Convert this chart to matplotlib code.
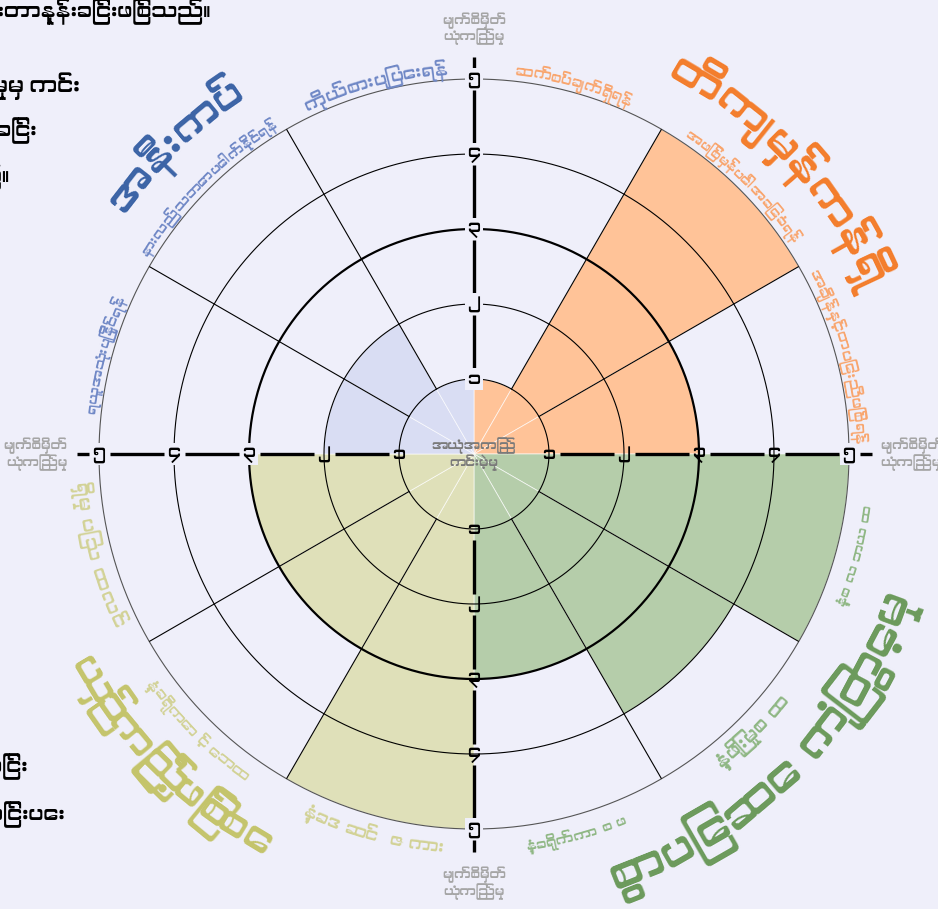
import unicodedata
import numpy as np
import matplotlib
matplotlib.use("Agg")
import matplotlib.pyplot as plt
from matplotlib import font_manager

# Myanmar text needs a Myanmar font; take one if the system has it
myanmar_fonts = sorted({f.name for f in font_manager.fontManager.ttflist
                        if any(k in f.name for k in ("Myanmar", "Padauk", "Pyidaungsu"))})
plt.rcParams["font.family"] = myanmar_fonts[:1] + ["Noto Sans", "DejaVu Sans"]

BG = "#efeffa"

# 12 sectors, clockwise from the top
sector_values = [1, 5, 3, 5, 4, 3, 5, 3, 3, 2, 2, 1]
sector_labels = [
    "ဆက်စပ်ချက်ရှိရန်",
    "အဖြစ်မှန်ပေါ်အခြေခံရန်",
    "အချိန်နှင့်တပြေးညီဖြစ်ရန်",
    "နှံ့စ လ ဘယ ထ",
    "နှံ့ဖြိုးမှုစ ထ",
    "နှံ့ခရိုက်ကာ စ ဖ",
    "နှံ့ခဒ ဆင်  ဇ ကား",
    "နှံ့ခရိုကော င့် ေဘထ",
    "ရှိမှု ပြသ ထလင်",
    "ရယူအသုံးပြုနိုင်ရန်",
    "နားလည်သဘောပေါက်နိုင်ရန်",
    "ကိုယ်စားပြုပေးရန်",
]
sector_group = [0, 0, 0, 1, 1, 1, 2, 2, 2, 3, 3, 3]
label_spans = [18, 23, 27, 15, 14, 15, 21, 20, 22, 18, 28, 22]

# four groups: top-right, bottom-right, bottom-left, top-left
group_titles = ["တိကျမှန်ကန်ရှိ", "စွာပြေဆေ ကြုံတွေ့မှု", "ယှဉ်ကြည့်ဖြစ်စေ", "အနီးကပ်"]
group_fill = ["#ffc398", "#b5cdaa", "#dfe0b9", "#d9ddf3"]
group_title_color = ["#f47d2b", "#6b9a5b", "#c4c46b", "#3b63a6"]
group_label_color = ["#f9a56d", "#8fb784", "#d2d296", "#7088c6"]
title_centers = [47, 135, 225, 316]
title_spans = [40, 54, 34, 23]
title_radius = [5.65, 6.1, 6.05, 5.65]

ring_digits = ["၁", "၂", "၃", "၄", "၅"]
axis_end_label = "မျက်စိမှိတ်\nယုံကြည်မှု"
center_label = "အယုံအကြည်\nကင်းမဲ့မှု"

# text running off the left edge of the picture: (text, right x px, y px, size, weight)
side_texts = [
    ("ဒေတာအရည်အသွေး တိုင်းတာနှုန်းခြင်းဖြစ်သည်။", 210, 12, 15, "normal"),
    ("အယုံအကြည်ကင်းမဲ့မှုမှ ကင်း", 80, 86, 16, "bold"),
    ("ယုံကြည်မှုတည်ဆောက်ခြင်း", 37, 131, 15, "normal"),
    ("ဖြစ်သည်။", 10, 177, 15, "normal"),
    ("အချက်အလက်များ စစ်ဆေးခြင်း", 27, 767, 15, "normal"),
    ("ဆုံးဖြတ်ချက်ချနိုင်အောင် ကူညီခြင်းပေး", 65, 815, 15, "normal"),
]

fig = plt.figure(figsize=(9.38, 9.09), dpi=100, facecolor=BG)
ax = fig.add_axes([99 / 938, 80 / 909, 750 / 938, 750 / 909], projection="polar")
ax.set_theta_zero_location("N")
ax.set_theta_direction(-1)
ax.set_ylim(0, 5)
ax.axis("off")

theta = np.radians(np.arange(12) * 30)
ax.bar(theta, sector_values, width=np.radians(30), align="edge",
       color=[group_fill[g] for g in sector_group],
       edgecolor=(1, 1, 1, 0.7), linewidth=0.6, zorder=1)

# rings and spokes
tt = np.linspace(0, 2 * np.pi, 721)
for k in range(1, 6):
    ax.plot(tt, np.full_like(tt, k), color="#555555" if k == 5 else "black",
            lw=1.6 if k == 3 else 0.8, zorder=2, clip_on=False)
for a in range(30, 360, 30):
    if a % 90:
        ax.plot([np.radians(a)] * 2, [1, 5], color="black", lw=0.8, zorder=2)

# the four axes with their ring numbers
gap = 0.14
for a in (0, 90, 180, 270):
    t = np.radians(a)
    for k in range(1, 6):
        top = k + 1 - gap if k < 5 else 5.3
        ax.plot([t, t], [k + gap, top], color="black", lw=2.4, zorder=3,
                clip_on=False, solid_capstyle="butt")
    # sectors on both sides of this axis
    i_after = (a // 30) % 12
    i_before = (a // 30 - 1) % 12
    for k, d in enumerate(ring_digits, 1):
        inside = max(sector_values[i_after], sector_values[i_before]) > k
        box = None if inside else dict(boxstyle="square,pad=0.12", fc=BG, ec="none")
        ax.text(t, k, d, ha="center", va="center", fontsize=13, fontweight="bold",
                color="black", zorder=4, bbox=box)

ax.text(0, 5.45, axis_end_label, ha="center", va="bottom", fontsize=9.5,
        color="#a5a5a5", linespacing=1.0, zorder=5)
ax.text(np.pi, 5.5, axis_end_label, ha="center", va="top", fontsize=9.5,
        color="#a5a5a5", linespacing=1.0, zorder=5)
ax.text(np.pi / 2, 5.42, axis_end_label, ha="left", va="center", fontsize=9.5,
        color="#a5a5a5", linespacing=1.0, zorder=5)
ax.text(3 * np.pi / 2, 5.42, axis_end_label, ha="right", va="center", fontsize=9.5,
        color="#a5a5a5", linespacing=1.0, zorder=5)
ax.text(0, 0, center_label, ha="center", va="center", fontsize=9.5, fontweight="bold",
        color="#7a7a7a", linespacing=1.0, zorder=5)

renderer = fig.canvas.get_renderer()
unit_px = ax.get_window_extent(renderer).width / 2 / 5


def split_clusters(s):
    out = []
    for ch in s:
        if out and (unicodedata.category(ch)[0] == "M" or out[-1].endswith("\u1039")):
            out[-1] += ch
        else:
            out.append(ch)
    return out


def text_width(s, size, weight):
    t = fig.text(0, 0, s, fontsize=size, fontweight=weight)
    w = t.get_window_extent(renderer).width
    t.remove()
    return w


def arc_text(s, center, span, r, size, color, weight="normal", min_scale=0.6):
    parts = split_clusters(s)
    widths = [text_width(p, size, weight) if p.strip() else size * 0.5 for p in parts]
    rpx = r * unit_px
    target = np.radians(span) * rpx
    scale = np.clip(target / sum(widths), min_scale, 1.3)
    size *= scale
    # spread the glyphs so the text fills the wanted span
    spread = target / (sum(widths) * scale)
    widths = [w * scale * spread for w in widths]
    total = np.degrees(sum(widths) / rpx)
    upper = not (90 < center < 270)
    pos = 0
    for p, w in zip(parts, widths):
        off = np.degrees((pos + w / 2) / rpx)
        pos += w
        if upper:
            b = center - total / 2 + off
            rot = -b
        else:
            b = center + total / 2 - off
            rot = 180 - b
        if p.strip():
            ax.text(np.radians(b), r, p, rotation=rot, rotation_mode="anchor",
                    ha="center", va="baseline", fontsize=size, color=color,
                    fontweight=weight, zorder=5)


for i, lab in enumerate(sector_labels):
    c = 15 + 30 * i
    r = 5.08 if not (90 < c < 270) else 5.33
    arc_text(lab, c, label_spans[i], r, 10.5, group_label_color[sector_group[i]])

for g, title in enumerate(group_titles):
    arc_text(title, title_centers[g], title_spans[g], title_radius[g], 32,
             group_title_color[g], weight="bold", min_scale=0.9)

for s, x, y, size, weight in side_texts:
    fig.text(x / 938, 1 - y / 909, s, ha="right", va="center", fontsize=size,
             fontweight=weight, color="black")

fig.savefig("out.png", dpi=100, facecolor=BG)
